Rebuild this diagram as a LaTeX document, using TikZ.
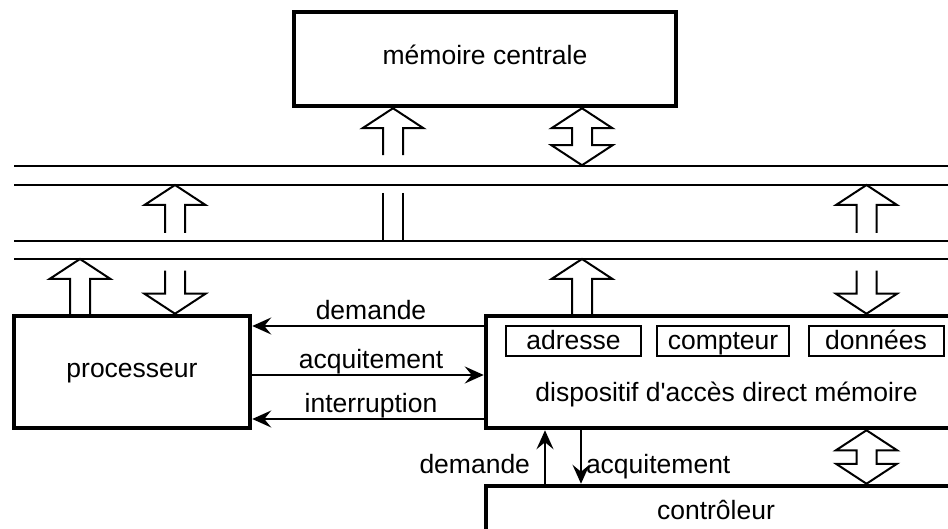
\documentclass[tikz,border=0pt]{standalone}
\usepackage{fontspec}
\setmainfont{Liberation Sans}
\usetikzlibrary{arrows.meta}
\begin{document}
\begin{tikzpicture}[x=1pt, y=-1pt,
  every node/.style={font=\fontsize{26.5pt}{31pt}\selectfont, inner sep=0pt},
  unit/.style={draw, line width=4.5pt, text height=17pt, text depth=6pt},
  reg/.style={draw, line width=2pt, minimum height=30pt, text height=19pt, text depth=1pt},
  bus/.style={line width=2pt},
  hollowline/.style={line width=2pt},
  sig/.style={line width=2pt, -{Stealth[length=19pt,width=17pt,inset=7pt]}},
  % hollow block arrows, tip at the origin
  pics/hollowUp/.style={code={
    \draw[hollowline] (-10,#1) -- (-10,20) -- (-30.5,20) -- (0,0) -- (30.5,20) -- (10,20) -- (10,#1);}},
  pics/hollowDown/.style={code={
    \draw[hollowline] (-10,-#1) -- (-10,-20) -- (-30.5,-20) -- (0,0) -- (30.5,-20) -- (10,-20) -- (10,-#1);}},
  pics/hollowBoth/.style={code={
    \draw[hollowline] (0,0) -- (30.5,20) -- (10,20) -- (10,#1-20) -- (30.5,#1-20) -- (0,#1)
      -- (-30.5,#1-20) -- (-10,#1-20) -- (-10,20) -- (-30.5,20) -- cycle;}},
]
\useasboundingbox[fill=white] (0,0) rectangle (948,529);

% units
\node[unit, minimum width=382pt, minimum height=94pt] (mem) at (485,59) {mémoire centrale};
\node[unit, minimum width=236pt, minimum height=112pt] (proc) at (132,372) {processeur};
\node[unit, minimum width=484pt, minimum height=112pt] (dma) at (728,372) {};
\node[unit, minimum width=484pt, minimum height=90pt] (ctrl) at (728,531) {};
\node[anchor=base] (dmaText) at (726.5,401) {dispositif d\textquotesingle accès direct mémoire};
\node[anchor=base] (ctrlText) at (716,519) {contrôleur};

% registers of the DMA unit
\node[reg, minimum width=135pt] (adr) at (573.5,341) {adresse};
\node[reg, minimum width=132pt] (cpt) at (723,341) {compteur};
\node[reg, minimum width=135pt] (don) at (876,341) {données};

% bus lines
\coordinate (busA) at (0,166);
\coordinate (busB) at (0,185);
\coordinate (busC) at (0,241);
\coordinate (busD) at (0,259);
\foreach \b in {busA,busB,busC,busD}
  \draw[bus] (14,0 |- \b) -- (960,0 |- \b);

% columns of the block arrows
\coordinate (xP) at (80,0);
\coordinate (xL) at (175,0);
\coordinate (xM) at (393,0);
\coordinate (xD) at (582,0);
\coordinate (xR) at (866.5,0);

\pic at (mem.south -| xM) {hollowUp=47};
\draw[hollowline] ([xshift=-10pt]xM |- 0,193) -- ([xshift=-10pt]xM |- busC);
\draw[hollowline] ([xshift=10pt]xM |- 0,193) -- ([xshift=10pt]xM |- busC);
\pic at (mem.south -| xD) {hollowBoth=57};
\pic at (xL |- busB) {hollowUp=48};
\pic at (xR |- busB) {hollowUp=48};
\pic at (xP |- busD) {hollowUp=57};
\pic at (xD |- busD) {hollowUp=57};
\pic at (proc.north -| xL) {hollowDown=43};
\pic at (dma.north -| xR) {hollowDown=43};
\pic at (dma.south -| xR) {hollowBoth=53.5};

% control signals between processor and DMA unit
\coordinate (yDem) at (0,326);
\coordinate (yAck) at (0,375);
\coordinate (yInt) at (0,419);
\draw[sig] (dma.west |- yDem) -- node[anchor=base, xshift=3pt, yshift=6.5pt] {demande} (proc.east |- yDem);
\draw[sig] (proc.east |- yAck) -- node[anchor=base, xshift=3pt, yshift=6.5pt] {acquitement} (dma.west |- yAck);
\draw[sig] (dma.west |- yInt) -- node[anchor=base, xshift=3pt, yshift=6.5pt] {interruption} (proc.east |- yInt);

% control signals between DMA unit and controller
\coordinate (xReq) at (545,0);
\coordinate (xAck) at (581,0);
\draw[sig] (ctrl.north -| xReq) -- node[pos=0.2, anchor=base east, xshift=-14pt] {demande} (dma.south -| xReq);
\draw[sig] (dma.south -| xAck) -- node[pos=0.8, anchor=base west, xshift=4pt] {acquitement} (ctrl.north -| xAck);
\end{tikzpicture}
\end{document}
